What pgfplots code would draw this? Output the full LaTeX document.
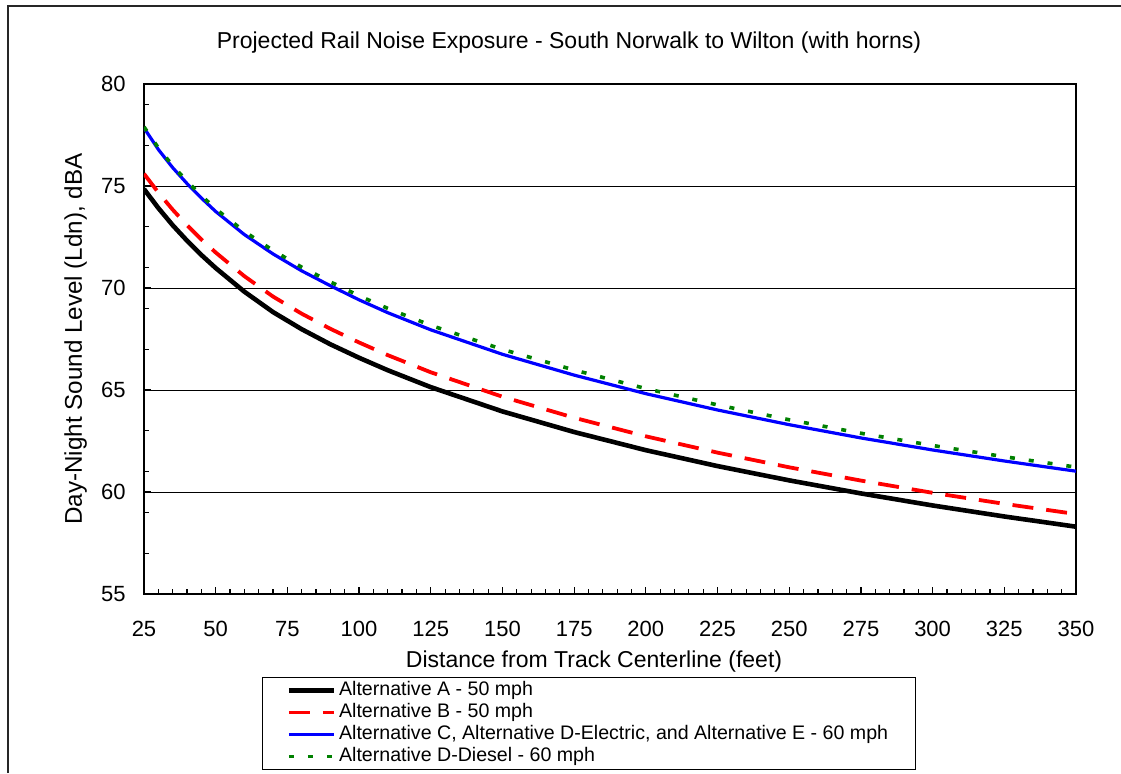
\documentclass[border=0pt]{standalone}
\usepackage{fontspec}
\setmainfont{Liberation Sans}
\usepackage{pgfplots}
\pgfplotsset{compat=1.18}
\definecolor{dgreen}{RGB}{0,128,0}
\definecolor{myred}{RGB}{255,0,0}
\definecolor{myblue}{RGB}{0,0,255}
\begin{document}
\begin{tikzpicture}
\path[use as bounding box] (-72pt,-89.5pt) rectangle (488.5pt,297pt);
\begin{axis}[
  at={(0,0)}, anchor=south west,
  scale only axis, width=466pt, height=255pt,
  xmin=25, xmax=350, ymin=55, ymax=80,
  xtick={25,50,...,350}, ytick={55,60,...,80},
  minor xtick={30,35,...,345}, minor ytick={57,59,...,79},
  xtick pos=bottom, ytick pos=left, tick align=inside,
  major tick length=3.5pt, minor tick length=2.5pt,
  tick style={black, line width=0.6pt},
  ymajorgrids, grid style={black, line width=0.5pt},
  axis line style={black, line width=0.6pt},
  /pgf/number format/assume math mode=true,
  every tick label/.append style={inner sep=0pt, font=\fontsize{11}{13}\selectfont},
  xticklabel style={anchor=base, yshift=-21pt},
  yticklabel style={anchor=east, xshift=-9pt},
  legend style={at={(0.1266,-0.1627)}, anchor=north west, draw=black, line width=0.5pt,
    font=\fontsize{9.8}{11}\selectfont, inner xsep=12pt, inner ysep=1pt,
    row sep=0pt, nodes={text height=7.2pt, text depth=2.2pt, inner ysep=0.8pt, inner xsep=1.5pt}},
  legend cell align=left,
  legend image code/.code={\draw[#1] (0pt,0pt) -- (22.5pt,0pt);},
]
\addplot[black, line width=2.3pt, line join=round] coordinates {
(25,74.85) (30,73.92) (35,73.08) (40,72.32) (45,71.62) (50,70.98) (60,69.82) (70,68.82) (80,67.98) (90,67.24) (100,66.58) (110,65.97) (125,65.14) (150,63.95) (175,62.94) (200,62.05) (225,61.27) (250,60.57) (275,59.93) (300,59.34) (325,58.80) (350,58.30)};
\addlegendentry{Alternative A - 50 mph}
\addplot[myred, line width=1.9pt, dash pattern=on 10.5pt off 6.5pt, line join=round] coordinates {
(25,75.6) (30,74.68) (35,73.84) (40,73.08) (45,72.38) (50,71.74) (60,70.58) (70,69.58) (80,68.74) (90,68.0) (100,67.33) (110,66.71) (125,65.87) (150,64.67) (175,63.64) (200,62.73) (225,61.93) (250,61.21) (275,60.56) (300,59.96) (325,59.42) (350,58.92)};
\addlegendentry{Alternative B - 50 mph}
\addplot[myblue, line width=1.6pt, line join=round] coordinates {
(25,77.85) (30,76.79) (35,75.90) (40,75.12) (45,74.41) (50,73.75) (60,72.62) (70,71.67) (80,70.84) (90,70.11) (100,69.42) (110,68.79) (125,67.95) (150,66.75) (175,65.73) (200,64.82) (225,64.02) (250,63.30) (275,62.65) (300,62.06) (325,61.52) (350,61.02)};
\addlegendentry{Alternative C, Alternative D-Electric, and Alternative E - 60 mph}
\addplot[dgreen, line width=1.8pt, dash pattern=on 2.5pt off 7pt] coordinates {
(25,77.9) (30,76.87) (35,76.0) (40,75.23) (45,74.53) (50,73.88) (60,72.77) (70,71.84) (80,71.02) (90,70.3) (100,69.62) (110,69.0) (125,68.17) (150,66.99) (175,65.98) (200,65.07) (225,64.27) (250,63.54) (275,62.88) (300,62.28) (325,61.73) (350,61.22)};
\addlegendentry{Alternative D-Diesel - 60 mph}
\end{axis}
\node[anchor=base, font=\fontsize{11.5}{13}\selectfont] at (212.5pt,272.85pt) {Projected Rail Noise Exposure - South Norwalk to Wilton (with horns)};
\node[anchor=base, font=\fontsize{11.5}{13}\selectfont] at (225pt,-36.65pt) {Distance from Track Centerline (feet)};
\node[anchor=base, rotate=90, font=\fontsize{12.1}{14}\selectfont] at (-31pt,127.5pt) {Day-Night Sound Level (Ldn), dBA};
\draw[line width=1.1pt, black!85] (-67.85pt,-89.5pt) -- (-67.85pt,294pt) -- (488.5pt,294pt);
\end{tikzpicture}
\end{document}
